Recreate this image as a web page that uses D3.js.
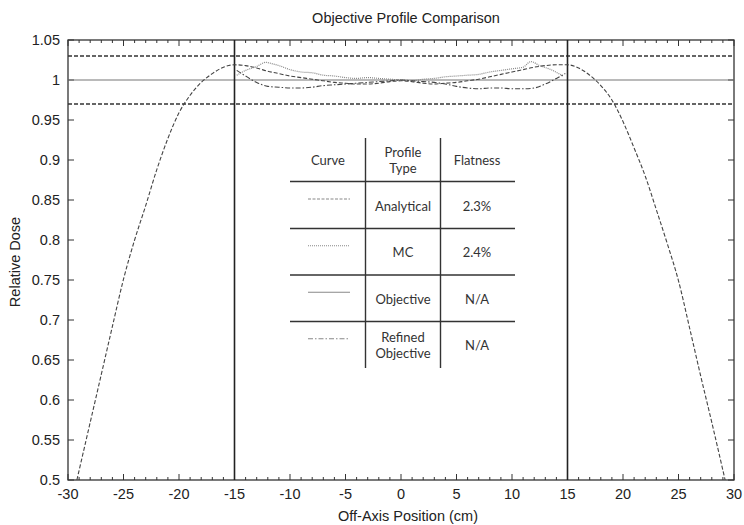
<!DOCTYPE html>
<html>
<head>
<meta charset="utf-8">
<script src="https://cdn.jsdelivr.net/npm/d3@7"></script>
<style>
  body { margin: 0; background: #fff; }
  svg { display: block; }
</style>
</head>
<body>
<div id="chart"></div>
<script>
// profile data
const analyticalX = [-29.2, -28, -27, -26, -25, -24, -23, -22, -21, -20, -19, -18, -17, -16, -15, -14, -13, -12, -11, -10, -9, -8, -7, -6, -5, -4, -3, -2, -1, 0,
  1, 2, 3, 4, 5, 6, 7, 8, 9, 10, 11, 12, 13, 14, 15, 16, 17, 18, 19, 20, 21, 22, 23, 24, 25, 26, 27, 28, 29.2];
const analyticalY = [0.5, 0.572, 0.632, 0.692, 0.751, 0.80, 0.843, 0.888, 0.927, 0.959, 0.981, 0.997, 1.008, 1.016, 1.019, 1.018, 1.015, 1.011, 1.008, 1.005, 1.003, 1.001, 0.999, 0.997, 0.996, 0.995, 0.995, 0.996, 0.998, 0.999,
  0.998, 0.996, 0.995, 0.996, 0.997, 0.999, 1.001, 1.004, 1.007, 1.010, 1.013, 1.016, 1.018, 1.019, 1.019, 1.015, 1.006, 0.993, 0.975, 0.948, 0.915, 0.880, 0.838, 0.795, 0.749, 0.690, 0.630, 0.572, 0.5];

const mcX = [-14.8, -14, -13, -12.2, -11.5, -11, -10, -9, -8, -7, -6, -5, -4, -3, -2, -1, 0, 1, 2, 3, 4, 5, 6, 7, 8, 9, 10, 11, 11.7, 12.5, 13.5, 14.6];
const mcY = [1.006, 1.012, 1.017, 1.022, 1.020, 1.018, 1.013, 1.010, 1.009, 1.006, 1.005, 1.003, 1.002, 1.003, 1.002, 1.001, 1.000, 0.999, 1.001, 1.002, 1.004, 1.005, 1.006, 1.007, 1.010, 1.012, 1.014, 1.016, 1.023, 1.018, 1.013, 1.005];

const refinedX = [-14.8, -14, -13, -12, -11, -10, -9, -8, -7, -6, -5, -4, -3, -2, -1, 0, 1, 2, 3, 4, 5, 6, 7, 8, 9, 10, 11, 12, 13, 14, 14.8];
const refinedY = [1.012, 1.005, 0.997, 0.992, 0.991, 0.990, 0.990, 0.991, 0.993, 0.994, 0.995, 0.996, 0.997, 0.998, 0.999, 1.000, 0.999, 0.998, 0.997, 0.995, 0.992, 0.990, 0.989, 0.990, 0.990, 0.989, 0.989, 0.990, 0.995, 1.002, 1.008];

const objectiveLevel = 1.0;
const toleranceLevels = [1.03, 0.97];
const fieldEdges = [-15, 15];

const xTicks = [-30, -25, -20, -15, -10, -5, 0, 5, 10, 15, 20, 25, 30];
const yTicks = [0.5, 0.55, 0.6, 0.65, 0.7, 0.75, 0.8, 0.85, 0.9, 0.95, 1, 1.05];

const tableHeader = [['Curve'], ['Profile', 'Type'], ['Flatness']];
const tableRows = [
  {dash: '3,1.5', type: ['Analytical'], flat: '2.3%'},
  {dash: '1,1', type: ['MC'], flat: '2.4%'},
  {dash: null, type: ['Objective'], flat: 'N/A'},
  {dash: '5,2,1.5,2', type: ['Refined', 'Objective'], flat: 'N/A'}
];

const W = 744, H = 525
  , margin = {top: 40, right: 10, bottom: 45, left: 68}
  , width = 734 - margin.left
  , height = 480 - margin.top;

const svg = d3.select('#chart').append('svg')
  .attr('width', W)
  .attr('height', H);

const g = svg.append('g')
  .attr('transform', `translate(${margin.left},${margin.top})`);

const x = d3.scaleLinear().domain([-30, 30]).range([0, width]);
const y = d3.scaleLinear().domain([0.5, 1.05]).range([height, 0]);

const axisColor = '#333';
const labelFont = '14.5px "Liberation Sans", Arial, sans-serif';

// frame
g.append('rect')
  .attr('width', width).attr('height', height)
  .attr('fill', 'none').attr('stroke', axisColor).attr('stroke-width', 1.3);

// minor ticks every unit along x, major every 5
const minorX = d3.range(-29, 30).filter(d => d % 5 !== 0);
[0, height].forEach((yy, k) => {
  const dir = k === 0 ? 1 : -1;
  g.selectAll(null).data(minorX).enter().append('line')
    .attr('x1', d => x(d)).attr('x2', d => x(d))
    .attr('y1', yy).attr('y2', yy + dir * 3)
    .attr('stroke', axisColor).attr('stroke-width', 1);
  g.selectAll(null).data(xTicks).enter().append('line')
    .attr('x1', d => x(d)).attr('x2', d => x(d))
    .attr('y1', yy).attr('y2', yy + dir * 6)
    .attr('stroke', axisColor).attr('stroke-width', 1);
});
[0, width].forEach((xx, k) => {
  const dir = k === 0 ? 1 : -1;
  g.selectAll(null).data(yTicks).enter().append('line')
    .attr('x1', xx).attr('x2', xx + dir * 6)
    .attr('y1', d => y(d)).attr('y2', d => y(d))
    .attr('stroke', axisColor).attr('stroke-width', 1);
});

// tick labels
g.selectAll(null).data(xTicks).enter().append('text')
  .attr('x', d => x(d)).attr('y', height + 19)
  .attr('text-anchor', 'middle')
  .style('font', labelFont).style('fill', '#222')
  .text(d => d);
g.selectAll(null).data(yTicks).enter().append('text')
  .attr('x', -8).attr('y', d => y(d) + 5)
  .attr('text-anchor', 'end')
  .style('font', labelFont).style('fill', '#222')
  .text(d => d);

// titles
svg.append('text')
  .attr('x', 406).attr('y', 23)
  .attr('text-anchor', 'middle')
  .style('font', labelFont).style('fill', '#222')
  .text('Objective Profile Comparison');
svg.append('text')
  .attr('x', 408).attr('y', 521)
  .attr('text-anchor', 'middle')
  .style('font', labelFont).style('fill', '#222')
  .text('Off-Axis Position (cm)');
svg.append('text')
  .attr('transform', 'translate(20,262) rotate(-90)')
  .attr('text-anchor', 'middle')
  .style('font', labelFont).style('fill', '#222')
  .text('Relative Dose');

// reference lines
g.selectAll(null).data(toleranceLevels).enter().append('line')
  .attr('x1', 0).attr('x2', width)
  .attr('y1', d => y(d)).attr('y2', d => y(d))
  .attr('stroke', '#333').attr('stroke-width', 1.6)
  .attr('stroke-dasharray', '4,2');
g.append('line')
  .attr('x1', 0).attr('x2', width)
  .attr('y1', y(objectiveLevel)).attr('y2', y(objectiveLevel))
  .attr('stroke', '#777').attr('stroke-width', 1.2);
g.selectAll(null).data(fieldEdges).enter().append('line')
  .attr('x1', d => x(d)).attr('x2', d => x(d))
  .attr('y1', 0).attr('y2', height)
  .attr('stroke', '#222').attr('stroke-width', 1.6);

// curves
const line = d3.line()
  .x(d => x(d[0]))
  .y(d => y(d[1]))
  .curve(d3.curveMonotoneX);

const series = [
  {xs: analyticalX, ys: analyticalY, dash: '4,2', color: '#444', w: 1.1},
  {xs: mcX, ys: mcY, dash: '1,1', color: '#888', w: 1.2},
  {xs: refinedX, ys: refinedY, dash: '5,2,1.5,2', color: '#444', w: 1.1}
];
series.forEach(s => {
  g.append('path')
    .datum(s.xs.map((v, i) => [v, s.ys[i]]))
    .attr('fill', 'none')
    .attr('stroke', s.color)
    .attr('stroke-width', s.w)
    .attr('stroke-dasharray', s.dash)
    .attr('d', line);
});

// table inset
const tbl = svg.append('g').attr('class', 'table')
  , tFont = '13px Lato, "Open Sans", sans-serif'
  , tLeft = 290, tRight = 515
  , colEdges = [365.5, 440.5]
  , colCenters = [328, 403, 477]
  , rowLines = [181.5, 228.5, 275, 321.5]
  , tTop = 138, tBottom = 368;

colEdges.forEach(cx => {
  tbl.append('line')
    .attr('x1', cx).attr('x2', cx).attr('y1', tTop).attr('y2', tBottom)
    .attr('stroke', '#333').attr('stroke-width', 1.4);
});
rowLines.forEach(ry => {
  tbl.append('line')
    .attr('x1', tLeft).attr('x2', tRight).attr('y1', ry).attr('y2', ry)
    .attr('stroke', '#333').attr('stroke-width', 1.4);
});

function cellText(cx, cy, lines) {
  const t = tbl.append('text')
    .attr('text-anchor', 'middle')
    .style('font', tFont).style('fill', '#333');
  lines.forEach((s, i) => {
    t.append('tspan')
      .attr('x', cx)
      .attr('y', cy + 4.5 + (i - (lines.length - 1) / 2) * 16)
      .text(s);
  });
}

const headerMid = (tTop + rowLines[0]) / 2 + 1;
tableHeader.forEach((h, i) => cellText(colCenters[i], headerMid, h));

const rowBounds = [rowLines[0], rowLines[1], rowLines[2], rowLines[3], tBottom];
tableRows.forEach((r, i) => {
  const mid = (rowBounds[i] + rowBounds[i + 1]) / 2 + 1;
  tbl.append('line')
    .attr('x1', 308).attr('x2', 350)
    .attr('y1', mid - 7).attr('y2', mid - 7)
    .attr('stroke', '#888').attr('stroke-width', 1.2)
    .attr('stroke-dasharray', r.dash);
  cellText(colCenters[1], mid, r.type);
  cellText(colCenters[2], mid, [r.flat]);
});
</script>
</body>
</html>
